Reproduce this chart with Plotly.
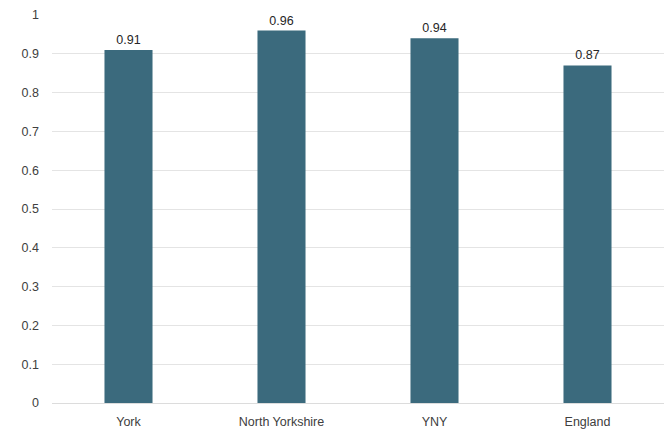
import plotly.graph_objects as go

categories = ["York", "North Yorkshire", "YNY", "England"]
values = [0.91, 0.96, 0.94, 0.87]
labels = ["0.91", "0.96", "0.94", "0.87"]

fig = go.Figure(go.Bar(
    x=categories, y=values, text=labels, textposition="outside",
    marker=dict(color="#3b6a7d", line=dict(width=0)),
    textfont=dict(size=12.5, color="#262626", family="Liberation Sans, Arial"),
    cliponaxis=False,
))
fig.update_layout(
    width=669, height=432,
    margin=dict(l=52, r=5, t=15, b=29),
    paper_bgcolor="white", plot_bgcolor="white",
    bargap=0.686,
    showlegend=False,
    font=dict(family="Liberation Sans, Arial", size=12.5, color="#404040"),
    yaxis=dict(range=[0, 1], dtick=0.1, tickformat="~g", showgrid=True, automargin=False,
               gridcolor="#e4e4e4", gridwidth=1, zeroline=True, zerolinecolor="#dcdcdc",
               zerolinewidth=1, ticks="", ticklen=0, tickcolor="white", ticklabelstandoff=12),
    xaxis=dict(showgrid=False, ticks="", showline=False, ticklabelstandoff=9, automargin=False),
)
fig.write_html("out.html")
